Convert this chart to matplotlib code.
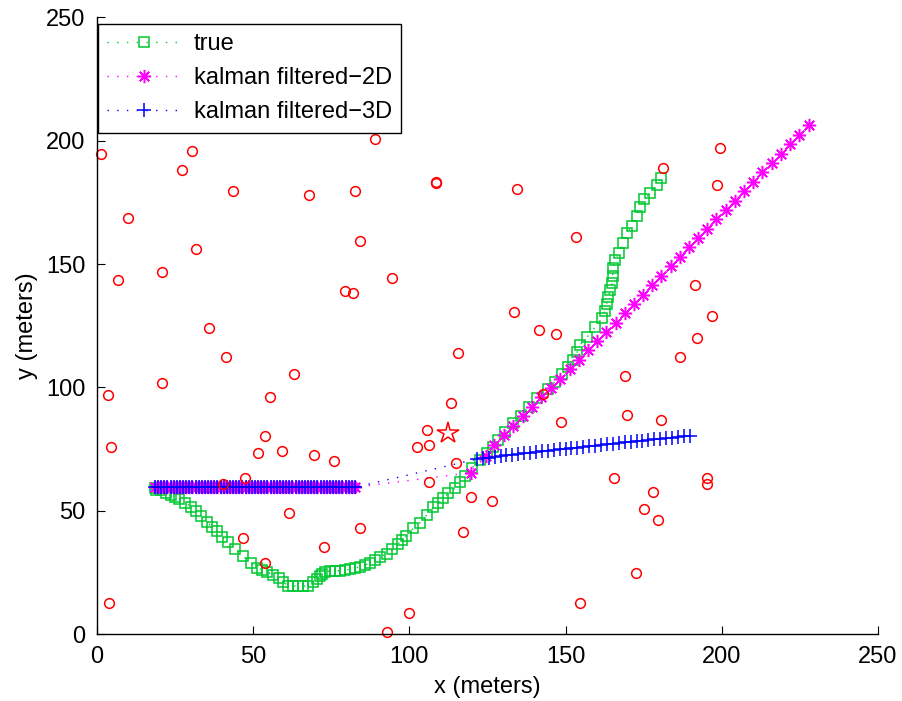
import matplotlib
matplotlib.use("Agg")
import matplotlib.pyplot as plt

plt.rcParams['font.family'] = ['Liberation Sans', 'DejaVu Sans']

# ground-truth trajectory (metres)
true_x = [18.6, 18.8, 20.4, 22.3, 23.6, 24.9, 26.3, 28.3, 30.1, 31.8,
          33.5, 35.2, 36.8, 38.4, 40.1, 42.0, 44.3, 46.8, 49.3, 51.4,
          52.9, 54.4, 56.4, 58.2, 59.7, 61.3, 62.9, 64.5, 66.1, 67.7,
          69.3, 70.4, 71.4, 72.1, 73.0, 74.6, 76.2, 77.8, 79.4, 81.0,
          82.6, 84.2, 85.8, 87.4, 89.0, 90.6, 92.8, 94.6, 96.3, 97.6,
          99.0, 101.3, 103.5, 105.6, 107.7, 109.3, 110.9, 112.5, 114.7, 116.3,
          117.9, 120.0, 122.7, 124.8, 126.9, 128.5, 130.7, 133.3, 135.6, 138.2,
          141.0, 144.3, 146.7, 148.8, 150.9, 152.5, 153.8, 154.6, 156.8, 159.5,
          161.6, 162.6, 163.2, 163.7, 164.3, 165.0, 165.1, 165.3, 165.7, 167.2,
          168.5, 169.6, 171.2, 172.8, 173.7, 175.2, 177.1, 179.2, 180.6]
true_y = [59.5, 58.4, 58.6, 57.4, 56.3, 55.7, 54.9, 53.3, 51.8, 50.0,
          48.0, 45.6, 43.6, 41.7, 39.6, 37.6, 34.8, 31.7, 29.1, 26.8,
          26.3, 25.3, 24.2, 22.8, 21.2, 19.8, 19.6, 19.6, 19.6, 19.8,
          21.1, 22.4, 23.6, 24.6, 25.3, 25.7, 25.8, 25.8, 26.0, 26.4,
          26.9, 27.4, 28.0, 29.0, 30.2, 31.3, 32.7, 34.6, 36.5, 38.2,
          40.0, 43.0, 45.3, 48.4, 51.5, 53.1, 55.1, 57.2, 59.2, 61.9,
          64.2, 67.3, 70.6, 73.4, 76.0, 78.7, 82.1, 85.5, 88.6, 92.2,
          95.6, 99.5, 102.3, 105.5, 108.4, 111.1, 114.5, 117.2, 120.3, 124.4,
          128.0, 130.9, 134.0, 136.8, 139.3, 142.3, 145.3, 148.5, 151.5, 154.6,
          158.4, 162.4, 165.4, 169.4, 172.9, 176.2, 178.6, 182.0, 184.9]

# both filters hold the same estimate over the first stretch
stall_x = [18.6, 19.6, 20.6, 21.6, 22.6, 23.6, 24.6, 25.6, 26.6, 27.6,
           28.6, 29.6, 30.6, 31.6, 32.6, 33.6, 34.6, 35.6, 36.6, 37.6,
           38.6, 39.6, 40.6, 41.6, 42.6, 43.6, 44.6, 45.6, 46.6, 47.6,
           48.6, 49.6, 50.6, 51.6, 52.6, 53.6, 54.6, 55.6, 56.6, 57.6,
           58.6, 59.6, 60.6, 61.6, 62.6, 63.6, 64.6, 65.6, 66.6, 67.6,
           68.6, 69.6, 70.6, 71.6, 72.6, 73.6, 74.6, 75.6, 76.6, 77.6,
           78.6, 79.6, 80.6, 81.6, 82.6]
stall_y = [59.6, 59.6, 59.6, 59.6, 59.6, 59.6, 59.6, 59.6, 59.6, 59.6,
           59.6, 59.6, 59.6, 59.6, 59.6, 59.6, 59.6, 59.6, 59.6, 59.6,
           59.6, 59.6, 59.6, 59.6, 59.6, 59.6, 59.6, 59.6, 59.6, 59.6,
           59.6, 59.6, 59.6, 59.6, 59.6, 59.6, 59.6, 59.6, 59.6, 59.6,
           59.6, 59.6, 59.6, 59.6, 59.6, 59.6, 59.6, 59.6, 59.6, 59.6,
           59.6, 59.6, 59.6, 59.6, 59.6, 59.6, 59.6, 59.6, 59.6, 59.6,
           59.6, 59.6, 59.6, 59.6, 59.6]

# 2D Kalman estimate after it starts tracking
kf2d_x = [119.6, 124.6, 127.2, 130.3, 133.3, 136.3, 139.3, 142.3, 145.3, 148.3,
          151.3, 154.2, 157.2, 160.1, 163.0, 166.0, 168.9, 171.9, 174.8, 177.8,
          180.7, 183.6, 186.6, 189.5, 192.5, 195.4, 198.3, 201.3, 204.2, 207.1,
          210.1, 213.0, 216.0, 218.9, 221.8, 224.8, 227.8]
kf2d_y = [65.5, 72.3, 76.6, 80.8, 84.6, 88.4, 92.2, 96.0, 99.8, 103.6,
          107.4, 111.2, 115.0, 118.8, 122.4, 126.2, 130.0, 133.8, 137.6, 141.4,
          145.2, 149.0, 152.9, 156.7, 160.5, 164.3, 168.1, 171.9, 175.7, 179.5,
          183.3, 187.1, 190.9, 194.7, 198.5, 202.3, 206.1]

# 3D Kalman estimate after it starts tracking
kf3d_x = [121.6, 123.5, 125.4, 127.3, 129.2, 131.1, 133.0, 134.8, 136.7, 138.6,
          140.5, 142.4, 144.3, 146.2, 148.1, 150.0, 151.9, 153.8, 155.7, 157.6,
          159.5, 161.4, 163.3, 165.2, 167.1, 169.0, 170.9, 172.8, 174.6, 176.5,
          178.4, 180.3, 182.2, 184.1, 186.0, 187.9, 189.8]
kf3d_y = [71.0, 71.3, 71.6, 71.9, 72.2, 72.5, 72.7, 73.0, 73.3, 73.6,
          73.9, 74.1, 74.4, 74.7, 74.9, 75.2, 75.5, 75.7, 76.0, 76.3,
          76.5, 76.8, 77.0, 77.3, 77.5, 77.8, 78.0, 78.3, 78.5, 78.8,
          79.0, 79.2, 79.5, 79.7, 79.9, 80.2, 80.4]

# anchor nodes
anchor_x = [1.3, 30.4, 27.3, 10.1, 31.8, 43.6, 67.8, 82.6, 89.0, 108.6,
            108.6, 134.4, 181.2, 199.3, 198.5, 84.3, 6.9, 20.9, 79.5, 82.0,
            94.4, 35.8, 41.3, 63.1, 20.9, 3.7, 55.3, 4.5, 53.9, 51.5,
            59.3, 69.4, 75.8, 47.5, 40.5, 61.6, 84.2, 46.8, 72.6, 53.9,
            3.8, 92.9, 99.8, 153.2, 133.5, 141.4, 147.0, 115.6, 113.3, 168.9,
            169.6, 142.7, 186.6, 180.6, 148.4, 105.6, 102.4, 106.2, 115.0, 106.2,
            119.6, 126.6, 117.2, 165.6, 178.1, 175.1, 179.7, 172.6, 154.7, 191.5,
            197.0, 192.2, 195.2, 195.2]
anchor_y = [194.5, 195.9, 188.1, 168.6, 156.1, 179.4, 178.1, 179.4, 200.6, 183.3,
            182.6, 180.2, 188.9, 196.8, 181.9, 159.2, 143.6, 146.8, 139.1, 138.3,
            144.3, 124.1, 112.5, 105.5, 101.7, 96.8, 96.0, 75.8, 80.5, 73.4,
            74.2, 72.5, 70.2, 63.2, 60.9, 49.2, 43.0, 39.1, 35.3, 28.9,
            12.6, 0.9, 8.8, 160.8, 130.4, 123.3, 121.8, 114.0, 93.7, 104.6,
            89.0, 97.2, 112.4, 86.8, 85.9, 82.8, 75.8, 76.6, 69.6, 61.7,
            55.5, 54.0, 41.5, 63.4, 57.8, 50.8, 46.4, 25.0, 12.6, 141.4,
            128.8, 120.2, 63.4, 61.0]

# unknown node
star_x = [112.5]
star_y = [81.5]

ticks = [0, 50, 100, 150, 200, 250]
labels = ['true', 'kalman filtered\u22122D', 'kalman filtered\u22123D']

GREEN = '#00c832'
MAGENTA = '#ff00ff'
BLUE = '#0000ff'
RED = '#ff0000'
FS = 17
dots = (0, (1, 6))

fig = plt.figure(figsize=(9.03, 7.01), dpi=100)
ax = fig.add_axes([0.1072, 0.0949, 0.8651, 0.8808])

ax.plot(true_x, true_y, linestyle=dots, lw=1.0, color=GREEN,
        marker='s', ms=6.8, mfc='none', mec=GREEN, mew=1.1, label=labels[0])
ax.plot(stall_x + kf2d_x, stall_y + kf2d_y, linestyle=dots, lw=1.0, color=MAGENTA,
        marker=(8, 2, 0), ms=9.5, mec=MAGENTA, mew=1.1, label=labels[1])
ax.plot(stall_x + kf3d_x, stall_y + kf3d_y, linestyle=dots, lw=1.0, color=BLUE,
        marker='+', ms=9.5, mec=BLUE, mew=1.1, label=labels[2])
ax.plot(anchor_x, anchor_y, linestyle='none', marker='o', ms=7,
        mfc='none', mec=RED, mew=1.1, clip_on=False)
ax.plot(star_x, star_y, linestyle='none', marker='*', ms=16,
        mfc='none', mec=RED, mew=1.1)

ax.set_xlim(0, 250)
ax.set_ylim(0, 250)
ax.set_xticks(ticks)
ax.set_yticks(ticks)
ax.set_xticklabels([str(t) for t in ticks], fontsize=FS)
ax.set_yticklabels([str(t) for t in ticks], fontsize=FS)
ax.tick_params(direction='in', length=5.6, width=0.8, pad=8,
               top=False, right=False)
for side in ('top', 'right'):
    ax.spines[side].set_visible(False)
for side in ('left', 'bottom'):
    ax.spines[side].set_linewidth(1.0)

ax.set_xlabel('x (meters)', fontsize=FS, labelpad=6)
ax.set_ylabel('y (meters)', fontsize=FS, labelpad=6)

leg = ax.legend(loc='upper left', bbox_to_anchor=(98 / 903, 1 - 24 / 701),
                bbox_transform=fig.transFigure, fontsize=FS,
                frameon=True, fancybox=False, framealpha=1, edgecolor='black',
                borderaxespad=0, borderpad=0.4, handlelength=3.1,
                handletextpad=0.55, labelspacing=0.5)
leg.get_frame().set_linewidth(1.0)

fig.savefig('out.png', dpi=100)
